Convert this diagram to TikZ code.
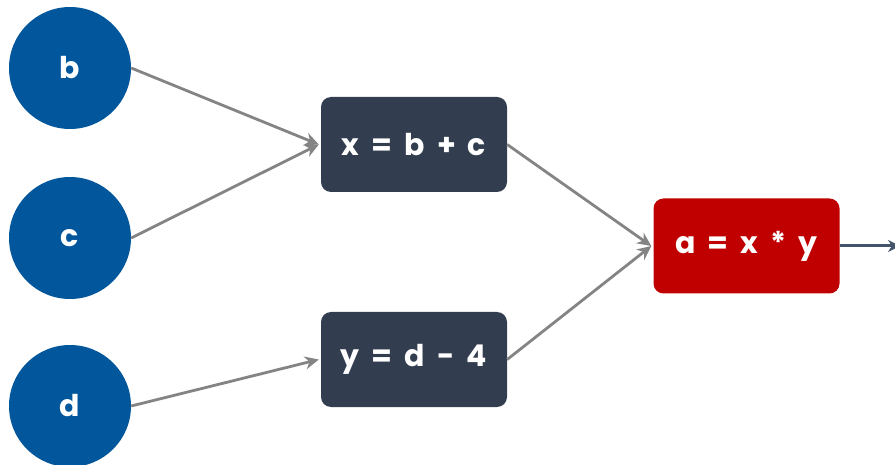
\documentclass[tikz,border=0pt]{standalone}
\usepackage{fontspec}
\setmainfont{Poppins}[WordSpace=1.9]
\usetikzlibrary{arrows.meta}
\definecolor{cblue}{HTML}{02569B}
\definecolor{cslate}{HTML}{323E50}
\definecolor{cred}{HTML}{C00000}
\definecolor{cgray}{HTML}{848484}
\definecolor{cout}{HTML}{44546A}
\tikzset{
  circ/.style={circle,fill=cblue,minimum size=122pt,inner sep=0pt,text=white,font=\fontsize{30}{34}\selectfont\bfseries},
  opbox/.style={rectangle,rounded corners=10pt,fill=cslate,minimum width=186pt,minimum height=95pt,inner sep=0pt,text=white,font=\fontsize{30}{34}\selectfont\bfseries},
  outbox/.style={opbox,fill=cred},
  arr/.style={draw=cgray,line width=2.8pt,-{Stealth[length=14pt,width=13pt]}},
  outarr/.style={draw=cout,line width=3pt,-{Stealth[length=12pt,width=12pt]}}
}
\begin{document}
\begin{tikzpicture}[x=1pt,y=-1pt]
\useasboundingbox (0,0) rectangle (895,465);
\node[circ] (b) at (70,68) {b};
\node[circ] (c) at (70,238) {c};
\node[circ] (d) at (70,406) {d};
\node[opbox] (x) at (414,144.5) {x = b + c};
\node[opbox] (y) at (414,359.5) {y = d - 4};
\node[outbox] (a) at (746.5,246) {a = x * y};
\coordinate (out) at (900,246);
\draw[arr] (b.east) -- ([xshift=-2pt]x.west);
\draw[arr] (c.east) -- ([xshift=-2pt]x.west);
\draw[arr] (d.east) -- ([xshift=-2pt]y.west);
\draw[arr] (x.east) -- ([xshift=-2pt]a.west);
\draw[arr] (y.east) -- ([xshift=-2pt]a.west);
\draw[outarr] (a.east) -- (out);
\end{tikzpicture}
\end{document}
